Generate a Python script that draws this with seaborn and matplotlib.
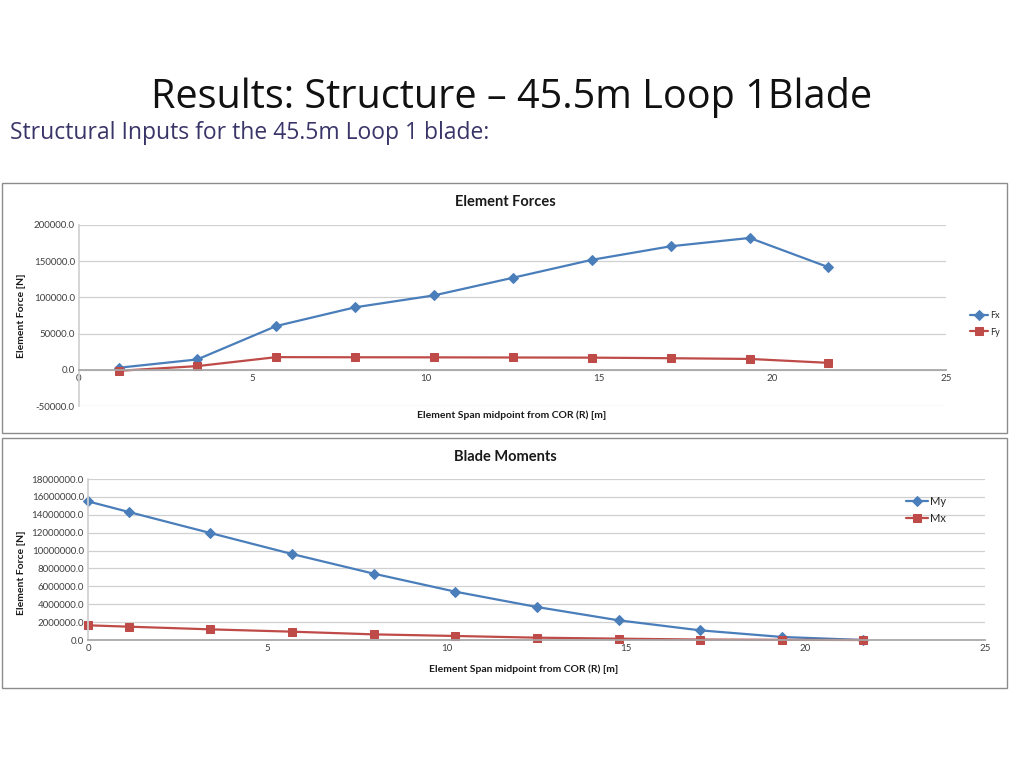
import matplotlib
matplotlib.use("Agg")
import matplotlib.pyplot as plt
from matplotlib.patches import Rectangle
from matplotlib.ticker import FormatStrFormatter
import seaborn as sns
import pandas as pd

# element span midpoints [m]
span_mid = [1.14, 3.41, 5.69, 7.96, 10.24, 12.51, 14.79, 17.06, 19.34, 21.61]
fx = [2800, 14300, 60500, 86300, 102800, 127100, 151900, 170600, 182100, 141700]
fy = [-1400, 5100, 17500, 17300, 17200, 17000, 16800, 16000, 15000, 9600]

# blade moments, root + midpoints
span_mom = [0.0, 1.14, 3.41, 5.69, 7.96, 10.24, 12.51, 14.79, 17.06, 19.34, 21.61]
my = [15500000, 14310000, 11960000, 9610000, 7420000, 5400000, 3690000, 2200000, 1080000, 340000, 0]
mx = [1640000, 1490000, 1190000, 930000, 630000, 450000, 260000, 150000, 50000, 20000, 0]

BLUE = "#4A7EBB"
RED = "#BE4B48"
GRID = "#D0D0D0"

sns.set_theme(style="white")
plt.rcParams["font.family"] = ["Lato", "DejaVu Sans"]

W, H = 1024, 768
fig = plt.figure(figsize=(W / 100, H / 100), dpi=100)


def px_axes(x0, y0, x1, y1):
    return fig.add_axes([x0 / W, 1 - y1 / H, (x1 - x0) / W, (y1 - y0) / H])


def px_box(x0, y0, x1, y1):
    fig.patches.append(Rectangle((x0 / W, 1 - y1 / H), (x1 - x0) / W, (y1 - y0) / H,
                                 transform=fig.transFigure, fill=False,
                                 edgecolor="#8C8C8C", linewidth=1.0))


def style_axes(ax, ylim, ystep):
    ax.set_xlim(0, 25)
    ax.set_ylim(*ylim)
    ax.set_xticks(range(0, 26, 5))
    ax.set_yticks(range(int(ylim[0]), int(ylim[1]) + 1, ystep))
    ax.yaxis.set_major_formatter(FormatStrFormatter("%.1f"))
    ax.grid(axis="y", color=GRID, linewidth=0.9)
    ax.set_axisbelow(True)
    for s in ["top", "right"]:
        ax.spines[s].set_visible(False)
    ax.spines["left"].set_color(GRID)
    ax.spines["bottom"].set_color("#A6A6A6")
    ax.spines["bottom"].set_position(("data", 0))
    ax.tick_params(axis="both", labelsize=7, colors="#404040", length=0, pad=3)
    ax.set_xlabel("")
    ax.set_ylabel("")
    for ln in ax.lines:
        ln.set_clip_on(False)


# page titles
fig.text(512 / W, 1 - 98 / H, "Results: Structure \u2013 45.5m Loop 1Blade",
         ha="center", va="center", fontsize=28.5, color="#111111", family="Open Sans")
fig.text(10 / W, 1 - 133 / H, "Structural Inputs for the 45.5m Loop 1 blade:",
         ha="left", va="center", fontsize=16.5, color="#3A3568", family="Open Sans")

# ---- Element Forces ----
px_box(2, 183, 1007, 433)
ax1 = px_axes(79, 225, 946, 406)
sns.lineplot(x=span_mid, y=fx, ax=ax1, color=BLUE, marker="D", markersize=5,
             markeredgecolor=BLUE, linewidth=1.6, label="Fx")
sns.lineplot(x=span_mid, y=fy, ax=ax1, color=RED, marker="s", markersize=6,
             markeredgecolor=RED, linewidth=1.6, label="Fy")
style_axes(ax1, (-50000, 200000), 50000)
ax1.legend(loc="center left", bbox_to_anchor=(962 / W, 1 - 324 / H),
           bbox_transform=fig.transFigure, frameon=False, fontsize=6.5,
           handlelength=2.0, handletextpad=0.2, labelspacing=0.8)
fig.text(505 / W, 1 - 202 / H, "Element Forces", ha="center", va="center",
         fontsize=10.5, fontweight="bold", color="#1A1A1A")
fig.text(512 / W, 1 - 415 / H, "Element Span midpoint from COR (R) [m]", ha="center",
         va="center", fontsize=7.5, fontweight="bold", color="#1A1A1A")
fig.text(22 / W, 1 - 316 / H, "Element Force [N]", ha="center", va="center",
         rotation=90, fontsize=7.5, fontweight="bold", color="#1A1A1A")

# ---- Blade Moments ----
px_box(2, 438, 1007, 688)
ax2 = px_axes(88, 479, 985, 640)
sns.lineplot(x=span_mom, y=my, ax=ax2, color=BLUE, marker="D", markersize=5,
             markeredgecolor=BLUE, linewidth=1.6, label="My")
sns.lineplot(x=span_mom, y=mx, ax=ax2, color=RED, marker="s", markersize=6,
             markeredgecolor=RED, linewidth=1.6, label="Mx")
style_axes(ax2, (0, 18000000), 2000000)
ax2.legend(loc="center left", bbox_to_anchor=(896 / W, 1 - 510 / H),
           bbox_transform=fig.transFigure, frameon=False, fontsize=8,
           handlelength=2.0, handletextpad=0.2, labelspacing=0.5)
fig.text(505 / W, 1 - 457 / H, "Blade Moments", ha="center", va="center",
         fontsize=10.5, fontweight="bold", color="#1A1A1A")
fig.text(524 / W, 1 - 669 / H, "Element Span midpoint from COR (R) [m]", ha="center",
         va="center", fontsize=7.5, fontweight="bold", color="#1A1A1A")
fig.text(22 / W, 1 - 573 / H, "Element Force [N]", ha="center", va="center",
         rotation=90, fontsize=7.5, fontweight="bold", color="#1A1A1A")

fig.savefig("out.png", dpi=100, facecolor="white")
